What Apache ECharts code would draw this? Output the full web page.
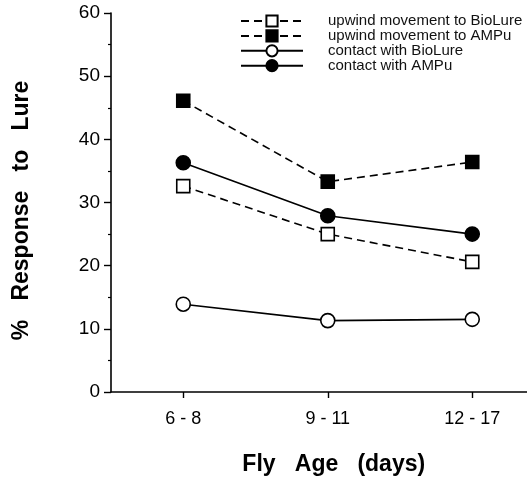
<!DOCTYPE html>
<html>
<head>
<meta charset="utf-8">
<script src="https://cdn.jsdelivr.net/npm/echarts@6/dist/echarts.min.js"></script>
<style>html,body{margin:0;padding:0;background:#fff;}#c{width:527px;height:479px;}</style>
</head>
<body>
<div id="c"></div>
<script>
var categories = ['6 - 8', '9 - 11', '12 - 17'];
var upwindBioLure = [32.6, 25.0, 20.6];
var upwindAMPu = [46.1, 33.3, 36.4];
var contactBioLure = [13.9, 11.3, 11.5];
var contactAMPu = [36.3, 27.9, 25.0];
var seriesNames = ['upwind movement to BioLure', 'upwind movement to AMPu', 'contact with BioLure', 'contact with AMPu'];

var FONT = 'Liberation Sans, Arial, Helvetica, sans-serif';
var chart = echarts.init(document.getElementById('c'));

function mk(name, data, dashed, symbol, filled, size) {
  return {
    name: name, type: 'line', data: data,
    symbol: symbol, symbolSize: size, showAllSymbol: true,
    lineStyle: { color: '#000', width: 1.6, type: dashed ? [8, 5] : 'solid' },
    itemStyle: { color: filled ? '#000' : '#fff', borderColor: '#000', borderWidth: 1.6, opacity: 1 },
    emphasis: { disabled: true },
    z: 3
  };
}

chart.setOption({
  backgroundColor: '#fff',
  animation: false,
  textStyle: { fontFamily: FONT },
  grid: { left: 111, top: 13, bottom: 87, width: 433.5, containLabel: false, outerBoundsMode: 'none' },
  legend: {
    orient: 'vertical', left: 240, top: 13.5, padding: 0,
    itemWidth: 62, itemHeight: 14, itemGap: -0.1,
    textStyle: { fontSize: 15, color: '#111', fontFamily: FONT, padding: [0, 0, 0, 20] },
    data: seriesNames
  },
  xAxis: {
    type: 'category', data: categories, boundaryGap: true,
    axisLine: { lineStyle: { color: '#000', width: 1.6 } },
    axisTick: { show: true, alignWithLabel: true, length: 6, lineStyle: { color: '#000', width: 1.4 } },
    axisLabel: { color: '#000', fontSize: 18, margin: 18, fontFamily: FONT },
    splitLine: { show: false },
    name: 'Fly   Age   (days)', nameLocation: 'middle', nameGap: 61,
    nameTextStyle: { fontSize: 23, fontWeight: 'bold', color: '#000', fontFamily: FONT, padding: [0, 0, 0, 12] }
  },
  yAxis: {
    type: 'value', min: 0, max: 60, interval: 10,
    axisLine: { show: true, lineStyle: { color: '#000', width: 1.6 } },
    axisTick: { show: true, length: 7, lineStyle: { color: '#000', width: 1.4 } },
    minorTick: { show: true, splitNumber: 2, length: 3, lineStyle: { color: '#000', width: 1.2 } },
    axisLabel: { color: '#000', fontSize: 19, margin: 11, fontFamily: FONT },
    splitLine: { show: false },
    name: '%   Response   to   Lure', nameLocation: 'middle', nameGap: 78,
    nameTextStyle: { fontSize: 23, fontWeight: 'bold', color: '#000', fontFamily: FONT, padding: [0, 16, 0, 0] }
  },
  series: [
    mk(seriesNames[0], upwindBioLure, true, 'rect', false, 13),
    mk(seriesNames[1], upwindAMPu, true, 'rect', true, 13),
    mk(seriesNames[2], contactBioLure, false, 'circle', false, 14),
    mk(seriesNames[3], contactAMPu, false, 'circle', true, 14)
  ]
});
</script>
</body>
</html>
